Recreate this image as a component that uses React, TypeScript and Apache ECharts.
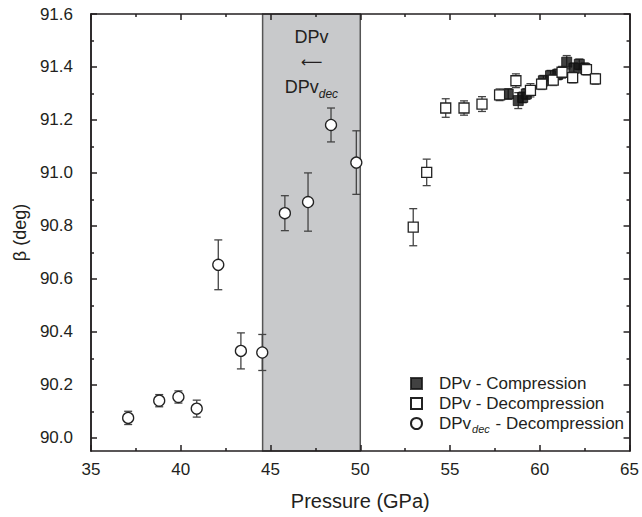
import React, { useEffect, useRef } from "react";
import * as echarts from "echarts";

// ---- data ----
const xRange = [35, 65];
const yRange = [89.95, 91.6];
const yMajorTicks = [90.0, 90.2, 90.4, 90.6, 90.8, 91.0, 91.2, 91.4, 91.6];
const yMinorTicks = [90.1, 90.3, 90.5, 90.7, 90.9, 91.1, 91.3, 91.5];
const bandRange = [44.56, 50.0];
const seriesNames = ["DPv - Compression", "DPv - Decompression", "DPvdec - Decompression"];

// [pressure, beta, error]
const compression = [
  [58.24, 91.298, 0.02],
  [58.8, 91.273, 0.03],
  [59.05, 91.285, 0.02],
  [59.25, 91.298, 0.02],
  [60.2, 91.348, 0.02],
  [60.6, 91.367, 0.02],
  [61.0, 91.372, 0.02],
  [61.5, 91.418, 0.025],
  [61.9, 91.395, 0.02],
  [62.2, 91.41, 0.02],
  [62.5, 91.395, 0.02],
];
const decompression = [
  [52.95, 90.795, 0.07],
  [53.7, 91.002, 0.05],
  [54.76, 91.245, 0.035],
  [55.78, 91.245, 0.027],
  [56.78, 91.26, 0.028],
  [57.76, 91.295, 0.022],
  [58.67, 91.348, 0.026],
  [59.48, 91.312, 0.025],
  [60.1, 91.335, 0.02],
  [60.75, 91.35, 0.02],
  [61.24, 91.38, 0.022],
  [61.83, 91.36, 0.02],
  [62.6, 91.39, 0.02],
  [63.1, 91.355, 0.02],
];
const decDecompression = [
  [37.07, 90.075, 0.025],
  [38.8, 90.14, 0.023],
  [39.87, 90.154, 0.023],
  [40.89, 90.11, 0.032],
  [42.09, 90.653, 0.094],
  [43.35, 90.328, 0.068],
  [44.54, 90.322, 0.068],
  [45.8, 90.848, 0.066],
  [47.09, 90.89, 0.11],
  [48.37, 91.181, 0.064],
  [49.78, 91.039, 0.12],
];

const AX = "#231f20";
const FONT = "'Liberation Sans', Arial, Helvetica, sans-serif";

export default function App() {
  const ref = useRef<HTMLDivElement>(null);
  useEffect(() => {
    if (!ref.current) return;
    const chart = echarts.init(ref.current, null, { renderer: "svg" });
    const lineStyle = { color: AX, width: 1.5 };
    const yBase: any = {
      type: "value",
      min: yRange[0],
      max: yRange[1],
      z: 5,
      axisLine: { show: true, onZero: false, lineStyle },
      splitLine: { show: false },
    };
    const yMajor = (pos: string, labels: boolean) => ({
      ...yBase,
      position: pos,
      axisTick: { show: true, inside: true, length: 6, lineStyle, customValues: yMajorTicks },
      axisLabel: {
        show: labels,
        customValues: yMajorTicks,
        formatter: (v: number) => v.toFixed(1),
        fontSize: 17,
        color: AX,
        fontFamily: FONT,
        margin: 18,
      },
    });
    const yMinor = (pos: string) => ({
      ...yBase,
      position: pos,
      axisTick: { show: true, inside: true, length: 3, lineStyle, customValues: yMinorTicks },
      axisLabel: { show: false, customValues: yMinorTicks },
    });
    const xBase = (pos: string, labels: boolean): any => ({
      type: "value",
      min: xRange[0],
      max: xRange[1],
      interval: 5,
      position: pos,
      z: 5,
      axisLine: { show: true, onZero: false, lineStyle },
      axisTick: { show: true, inside: true, length: 6, lineStyle },
      minorTick: { show: true, splitNumber: 2, length: 3, lineStyle },
      splitLine: { show: false },
      minorSplitLine: { show: false },
      axisLabel: { show: labels, fontSize: 17, color: AX, fontFamily: FONT, margin: 10 },
    });
    const errData = [...compression, ...decompression, ...decDecompression];
    const toXY = (arr: number[][]) => arr.map((d) => [d[0], d[1]]);

    chart.setOption({
      animation: false,
      textStyle: { fontFamily: FONT },
      grid: { left: 91, right: 11, top: 14, bottom: 66 },
      xAxis: [
        {
          ...xBase("bottom", true),
          name: "Pressure (GPa)",
          nameLocation: "middle",
          nameGap: 40,
          nameTextStyle: { fontSize: 20, color: AX, fontFamily: FONT },
        },
        xBase("top", false),
      ],
      yAxis: [
        {
          ...yMajor("left", true),
          name: "β (deg)",
          nameLocation: "middle",
          nameGap: 62,
          nameTextStyle: { fontSize: 18, color: AX, fontFamily: FONT },
        },
        yMinor("left"),
        yMajor("right", false),
        yMinor("right"),
      ],
      legend: {
        orient: "vertical",
        left: 405,
        top: 370,
        itemWidth: 11,
        itemHeight: 11,
        itemGap: 3,
        data: seriesNames,
        formatter: (name: string) =>
          name === seriesNames[2]
            ? "{f|DPv}{s|dec}{n| - Decompression}"
            : "{f|" + name + "}",
        textStyle: {
          color: AX,
          fontFamily: FONT,
          rich: {
            f: { fontSize: 17, color: AX, fontFamily: FONT, padding: [0, 0, 0, 12] },
            n: { fontSize: 17, color: AX, fontFamily: FONT },
            s: { fontSize: 11, fontStyle: "italic", color: AX, fontFamily: FONT, padding: [10, 1, 0, 1] },
          },
        },
      },
      series: [
        {
          type: "scatter",
          name: "band",
          data: [],
          silent: true,
          markArea: {
            silent: true,
            itemStyle: { color: "#c8c9cb", borderColor: "#555", borderWidth: 1.5 },
            label: {
              show: true,
              position: "insideTop",
              distance: 11,
              formatter: "{a|DPv}\n{r|⟵}\n{a|DPv}{s|dec}",
              rich: {
                a: { fontSize: 18, lineHeight: 25, color: AX, fontFamily: FONT },
                r: { fontSize: 15, lineHeight: 25, color: AX, fontFamily: "'DejaVu Sans', sans-serif" },
                s: { fontSize: 12, fontStyle: "italic", lineHeight: 25, color: AX, fontFamily: FONT, padding: [14, 0, 0, 0] },
              },
            },
            data: [[{ xAxis: bandRange[0] }, { xAxis: bandRange[1] }]],
          },
        },
        {
          type: "custom",
          name: "errors",
          silent: true,
          z: 2,
          data: errData,
          encode: { x: 0, y: 1 },
          renderItem: (params: any, api: any) => {
            const x = api.value(0);
            const y = api.value(1);
            const e = api.value(2);
            const top = api.coord([x, y + e]);
            const bot = api.coord([x, y - e]);
            const w = 4;
            const style = { stroke: "#444", lineWidth: 1.3 };
            return {
              type: "group",
              children: [
                { type: "line", shape: { x1: top[0], y1: top[1], x2: bot[0], y2: bot[1] }, style },
                { type: "line", shape: { x1: top[0] - w, y1: top[1], x2: top[0] + w, y2: top[1] }, style },
                { type: "line", shape: { x1: bot[0] - w, y1: bot[1], x2: bot[0] + w, y2: bot[1] }, style },
              ],
            };
          },
        },
        {
          type: "scatter",
          name: seriesNames[0],
          z: 3,
          symbol: "rect",
          symbolSize: 10,
          itemStyle: { color: "#111", borderColor: "#111", borderWidth: 1 },
          data: toXY(compression),
        },
        {
          type: "scatter",
          name: seriesNames[1],
          z: 4,
          symbol: "rect",
          symbolSize: 10,
          itemStyle: { color: "#fff", borderColor: "#222", borderWidth: 1.3, opacity: 1 },
          data: toXY(decompression),
        },
        {
          type: "scatter",
          name: seriesNames[2],
          z: 4,
          symbol: "circle",
          symbolSize: 11,
          itemStyle: { color: "#fff", borderColor: "#222", borderWidth: 1.3, opacity: 1 },
          data: toXY(decDecompression),
        },
      ],
    });
    return () => chart.dispose();
  }, []);
  return <div ref={ref} style={{ width: 642, height: 517, position: "absolute", left: 0, top: 0 }} />;
}
